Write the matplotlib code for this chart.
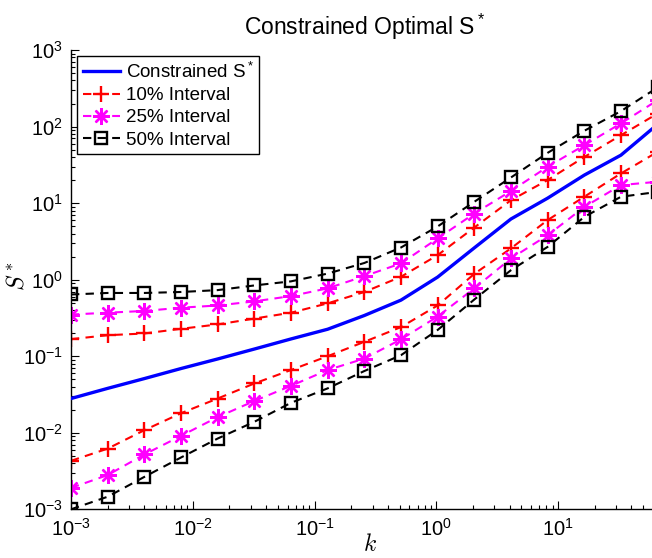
import numpy as np
import matplotlib
matplotlib.use("Agg")
import matplotlib.pyplot as plt

plt.rcParams['font.family'] = ['Liberation Sans', 'DejaVu Sans']
plt.rcParams['mathtext.fontset'] = 'custom'
plt.rcParams['mathtext.rm'] = 'Liberation Sans'
plt.rcParams['mathtext.it'] = 'Liberation Sans:italic'
plt.rcParams['mathtext.bf'] = 'Liberation Sans:bold'

# data
k = [0.001, 0.002, 0.004, 0.008, 0.016, 0.032, 0.064, 0.128, 0.256, 0.512,
     1.024, 2.048, 4.096, 8.192, 16.384, 32.768, 65.536]
s_opt = [0.028, 0.038, 0.051, 0.069, 0.092, 0.124, 0.168, 0.225, 0.34, 0.54,
         1.08, 2.6, 6.2, 11.6, 23.2, 42.3, 107]
up10 = [0.167, 0.188, 0.198, 0.228, 0.26, 0.31, 0.37, 0.49, 0.69, 1.09,
        2.09, 4.8, 10.9, 20, 40, 77, 148]
lo10 = [0.0043, 0.0062, 0.0108, 0.018, 0.028, 0.044, 0.066, 0.10, 0.154, 0.24,
        0.46, 1.19, 2.56, 6.0, 12.1, 24.4, 46.7]
up25 = [0.35, 0.37, 0.39, 0.43, 0.46, 0.52, 0.61, 0.77, 1.11, 1.63,
        3.45, 7.3, 14.4, 29.8, 57, 110, 221]
lo25 = [0.0019, 0.0028, 0.0052, 0.0091, 0.016, 0.026, 0.041, 0.066, 0.093, 0.166,
        0.33, 0.77, 1.89, 3.8, 8.9, 17.2, 19]
up50 = [0.64, 0.67, 0.67, 0.69, 0.73, 0.84, 0.95, 1.20, 1.65, 2.63,
        4.95, 10.4, 21.6, 45.3, 88, 159, 324]
lo50 = [0.001, 0.00146, 0.00265, 0.00475, 0.0084, 0.0139, 0.0246, 0.038, 0.064, 0.103,
        0.22, 0.55, 1.33, 2.68, 6.6, 12.1, 14]

W, H = 652, 558
fig = plt.figure(figsize=(W / 100, H / 100), dpi=100)
ax = fig.add_axes([71 / W, 1 - 509.3 / H, (657.6 - 71) / W, (509.3 - 50) / H])

dash = (4, 3)
ax.plot(k, s_opt, color='#0000ff', lw=2.4, label='Constrained S$^*$', zorder=5)
ax.plot(k, up10, color='#ff0000', lw=1.5, dashes=dash, marker='+', ms=12, mew=1.7,
        label='10% Interval')
ax.plot(k, lo10, color='#ff0000', lw=1.5, dashes=dash, marker='+', ms=12, mew=1.7)
ax.plot(k, up25, color='#ff00ff', lw=1.5, dashes=dash, marker=(8, 2, 0), ms=12, mew=1.7,
        label='25% Interval')
ax.plot(k, lo25, color='#ff00ff', lw=1.5, dashes=dash, marker=(8, 2, 0), ms=12, mew=1.7)
ax.plot(k, up50, color='black', lw=1.5, dashes=dash, marker='s', ms=8.5, mew=1.7,
        mfc='none', label='50% Interval')
ax.plot(k, lo50, color='black', lw=1.5, dashes=dash, marker='s', ms=8.5, mew=1.7,
        mfc='none')

ax.set_xscale('log')
ax.set_yscale('log')
ax.set_xlim(1e-3, 65.536)
ax.set_ylim(1e-3, 1e3)

for side in ('top', 'right'):
    ax.spines[side].set_visible(False)
for side in ('left', 'bottom'):
    ax.spines[side].set_linewidth(1.0)

ax.tick_params(which='both', direction='in', labelsize=14.5, pad=6)
ax.tick_params(which='major', length=6, width=0.8)
ax.tick_params(which='minor', length=3, width=0.8)
ax.yaxis.set_major_locator(matplotlib.ticker.LogLocator(base=10, numticks=10))
ax.yaxis.set_minor_locator(matplotlib.ticker.LogLocator(base=10, subs=np.arange(2, 10), numticks=20))
ax.xaxis.set_minor_locator(matplotlib.ticker.LogLocator(base=10, subs=np.arange(2, 10), numticks=20))

ax.set_title('Constrained Optimal S$^*$', fontsize=16.5, pad=11)
fig.text(370 / W, 1 - 545 / H, '$k$', fontsize=17, math_fontfamily='cm',
         ha='center', va='center')
fig.text(17 / W, 1 - 276 / H, '$S^*$', fontsize=17, math_fontfamily='cm',
         ha='center', va='center', rotation=90)

leg = ax.legend(loc='upper left', bbox_to_anchor=(77 / W, 1 - 56 / H),
                bbox_transform=fig.transFigure, fontsize=13.5, frameon=True,
                fancybox=False, framealpha=1, edgecolor='black', borderaxespad=0,
                handlelength=2.0, handletextpad=0.3, borderpad=0.3, labelspacing=0.28,
                numpoints=1)
leg.get_frame().set_linewidth(1.0)

fig.savefig('out.png', dpi=100)
